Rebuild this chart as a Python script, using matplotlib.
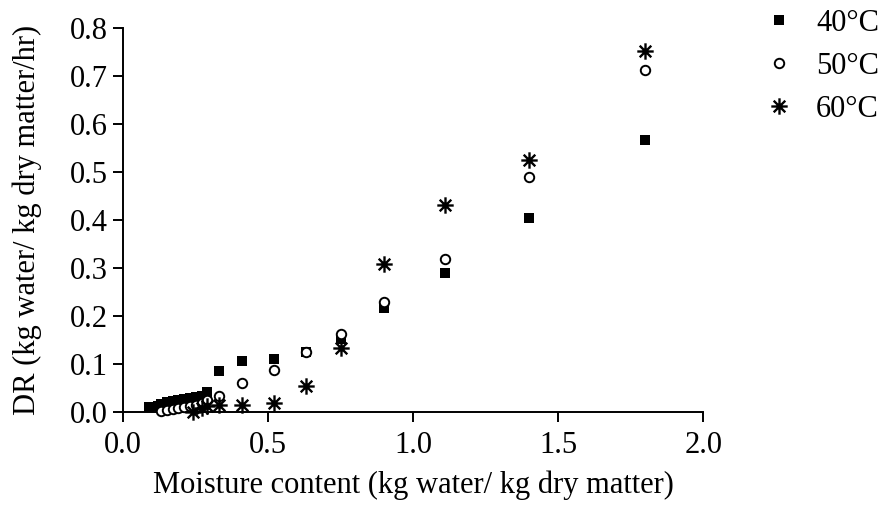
import matplotlib
matplotlib.use("Agg")
import matplotlib.pyplot as plt
from matplotlib.path import Path

plt.rcParams['font.family'] = ['Liberation Serif', 'DejaVu Serif']
plt.rcParams['mathtext.fontset'] = 'stix'

# Drying rate vs. moisture content at three air temperatures
mc_40 = [0.09, 0.12, 0.13, 0.15, 0.17, 0.19, 0.21, 0.23, 0.25, 0.27, 0.29,
         0.33, 0.41, 0.52, 0.63, 0.75, 0.90, 1.11, 1.40, 1.80]
dr_40 = [0.010, 0.013, 0.017, 0.020, 0.023, 0.026, 0.028, 0.030, 0.031, 0.033, 0.042,
         0.085, 0.107, 0.110, 0.124, 0.153, 0.216, 0.289, 0.405, 0.567]

mc_50 = [0.13, 0.15, 0.17, 0.19, 0.21, 0.23, 0.25, 0.27, 0.29,
         0.33, 0.41, 0.52, 0.63, 0.75, 0.90, 1.11, 1.40, 1.80]
dr_50 = [0.003, 0.004, 0.006, 0.008, 0.010, 0.012, 0.015, 0.018, 0.025,
         0.034, 0.060, 0.088, 0.126, 0.162, 0.230, 0.318, 0.490, 0.712]

mc_60 = [0.24, 0.27, 0.29, 0.33, 0.41, 0.52, 0.63, 0.75, 0.90, 1.11, 1.40, 1.80]
dr_60 = [0.001, 0.008, 0.012, 0.014, 0.014, 0.018, 0.054, 0.133, 0.308, 0.431, 0.526, 0.753]

labels = ['40°C', '50°C', '60°C']
x_ticks = [0.0, 0.5, 1.0, 1.5, 2.0]
y_ticks = [0.0, 0.1, 0.2, 0.3, 0.4, 0.5, 0.6, 0.7, 0.8]

# eight-armed asterisk marker
d = 0.7071
asterisk = Path(
    [(-1, 0), (1, 0), (0, -1), (0, 1), (-d, -d), (d, d), (-d, d), (d, -d)],
    [Path.MOVETO, Path.LINETO] * 4,
)

FS = 22

fig = plt.figure(figsize=(8.9, 5.08), dpi=100)
ax = fig.add_axes([123.3 / 890, 96 / 508, 580 / 890, 384 / 508])

ax.plot(mc_40, dr_40, ls='none', marker='s', ms=7.6, mfc='black', mec='black',
        mew=0, label=labels[0], clip_on=False, zorder=3)
ax.plot(mc_50, dr_50, ls='none', marker='o', ms=6.8, mfc='white', mec='black',
        mew=1.4, label=labels[1], clip_on=False, zorder=4)
ax.plot(mc_60, dr_60, ls='none', marker=asterisk, ms=11.8, mfc='black', mec='black',
        mew=1.7, label=labels[2], clip_on=False, zorder=5)

ax.set_xlim(0, 2.0)
ax.set_ylim(0, 0.8)
ax.set_xticks(x_ticks)
ax.set_yticks(y_ticks)
ax.set_xticklabels([f'{v:.1f}' for v in x_ticks])
ax.set_yticklabels([f'{v:.1f}' for v in y_ticks])

for side in ('top', 'right'):
    ax.spines[side].set_visible(False)
for side in ('left', 'bottom'):
    ax.spines[side].set_linewidth(1.4)

ax.tick_params(axis='x', direction='out', length=7, width=1.4,
               labelsize=FS, pad=7)
ax.tick_params(axis='y', direction='out', length=7, width=1.4,
               labelsize=FS, pad=4)

ax.set_xlabel('Moisture content (kg water/ kg dry matter)', fontsize=FS, labelpad=7)
ax.set_ylabel('DR (kg water/ kg dry matter/hr)', fontsize=FS, labelpad=20)

fig.legend(loc='upper left', bbox_to_anchor=(767 / 890, 0.982), frameon=False,
           fontsize=FS, handlelength=0.8, handletextpad=0.8, labelspacing=0.45,
           borderpad=0, borderaxespad=0)

fig.savefig('out.png', dpi=100)
